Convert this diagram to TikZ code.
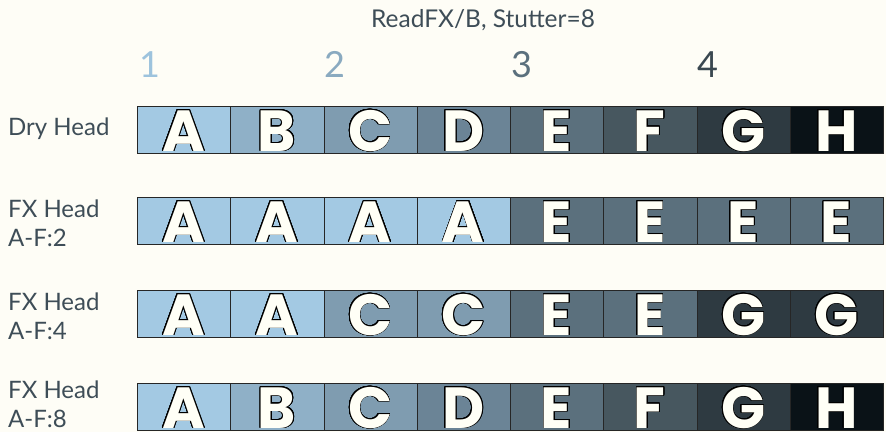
\documentclass[tikz,border=0pt]{standalone}
\usepackage{fontspec}
\setmainfont{Lato}
\newfontfamily\letterfont{Poppins}
\usepackage{contour}
\contourlength{0.8pt}
\contournumber{24}
\definecolor{bgc}{HTML}{FEFDF6}
\definecolor{txt}{HTML}{3E4D57}
\definecolor{cA}{HTML}{A3C9E3}
\definecolor{cB}{HTML}{8FB0C7}
\definecolor{cC}{HTML}{7F9CB0}
\definecolor{cD}{HTML}{6B8496}
\definecolor{cE}{HTML}{5B707D}
\definecolor{cF}{HTML}{47575F}
\definecolor{cG}{HTML}{2E3A41}
\definecolor{cH}{HTML}{0A1217}
\definecolor{lw}{HTML}{FFFFF6}
\definecolor{numA}{HTML}{9DC3DD}
\definecolor{numB}{HTML}{8AAAC0}
\definecolor{numC}{HTML}{5B707D}
\definecolor{numD}{HTML}{3A4850}
\tikzset{
  cellst/.style={draw=black!85, line width=0.9pt, inner sep=0pt, minimum width=93.25pt, minimum height=47pt, anchor=north west},
  letterst/.style={inner sep=0pt, anchor=base, text=lw, font=\letterfont\bfseries\fontsize{58}{58}\selectfont},
  labelst/.style={inner sep=0pt, anchor=base west, text=txt, font=\fontsize{24}{24}\selectfont},
  numst/.style={inner sep=0pt, anchor=base west, font=\fontsize{36}{36}\selectfont},
}
\newcommand{\cellbox}[4]{%
  \node[cellst, fill=c#4] (#1) at ({137+93.25*#2},#3) {};
  \node[letterst] (#1t) at ({137+93.25*#2+46.6},#3+45) {\contour{black}{#4}};
}
\begin{document}
\begin{tikzpicture}[x=1pt,y=-1pt]
\fill[bgc] (0,0) rectangle (886,432);
\useasboundingbox (0,0) rectangle (886,432);
\node[inner sep=0pt, anchor=base, text=txt, font=\fontsize{24.5}{24.5}\selectfont] (title) at (483,27) {ReadFX/B, Stutter=8};
\node[numst, text=numA] (n1) at (139,77) {1};
\node[numst, text=numB] (n2) at (324,77) {2};
\node[numst, text=numC] (n3) at (511,77) {3};
\node[numst, text=numD] (n4) at (697,77) {4};
\node[labelst] (l1) at (8,135) {Dry Head};
\node[labelst] (l2a) at (8,217) {FX Head};
\node[labelst] (l2b) at (8,246) {A-F:2};
\node[labelst] (l3a) at (8,310) {FX Head};
\node[labelst] (l3b) at (8,339) {A-F:4};
\node[labelst] (l4a) at (8,398) {FX Head};
\node[labelst] (l4b) at (8,427) {A-F:8};
% row 1
\cellbox{ra1}{0}{106}{A}\cellbox{ra2}{1}{106}{B}\cellbox{ra3}{2}{106}{C}\cellbox{ra4}{3}{106}{D}
\cellbox{ra5}{4}{106}{E}\cellbox{ra6}{5}{106}{F}\cellbox{ra7}{6}{106}{G}\cellbox{ra8}{7}{106}{H}
% row 2
\cellbox{rb1}{0}{197}{A}\cellbox{rb2}{1}{197}{A}\cellbox{rb3}{2}{197}{A}\cellbox{rb4}{3}{197}{A}
\cellbox{rb5}{4}{197}{E}\cellbox{rb6}{5}{197}{E}\cellbox{rb7}{6}{197}{E}\cellbox{rb8}{7}{197}{E}
% row 3
\cellbox{rc1}{0}{290}{A}\cellbox{rc2}{1}{290}{A}\cellbox{rc3}{2}{290}{C}\cellbox{rc4}{3}{290}{C}
\cellbox{rc5}{4}{290}{E}\cellbox{rc6}{5}{290}{E}\cellbox{rc7}{6}{290}{G}\cellbox{rc8}{7}{290}{G}
% row 4
\cellbox{rd1}{0}{383}{A}\cellbox{rd2}{1}{383}{B}\cellbox{rd3}{2}{383}{C}\cellbox{rd4}{3}{383}{D}
\cellbox{rd5}{4}{383}{E}\cellbox{rd6}{5}{383}{F}\cellbox{rd7}{6}{383}{G}\cellbox{rd8}{7}{383}{H}
\end{tikzpicture}
\end{document}
